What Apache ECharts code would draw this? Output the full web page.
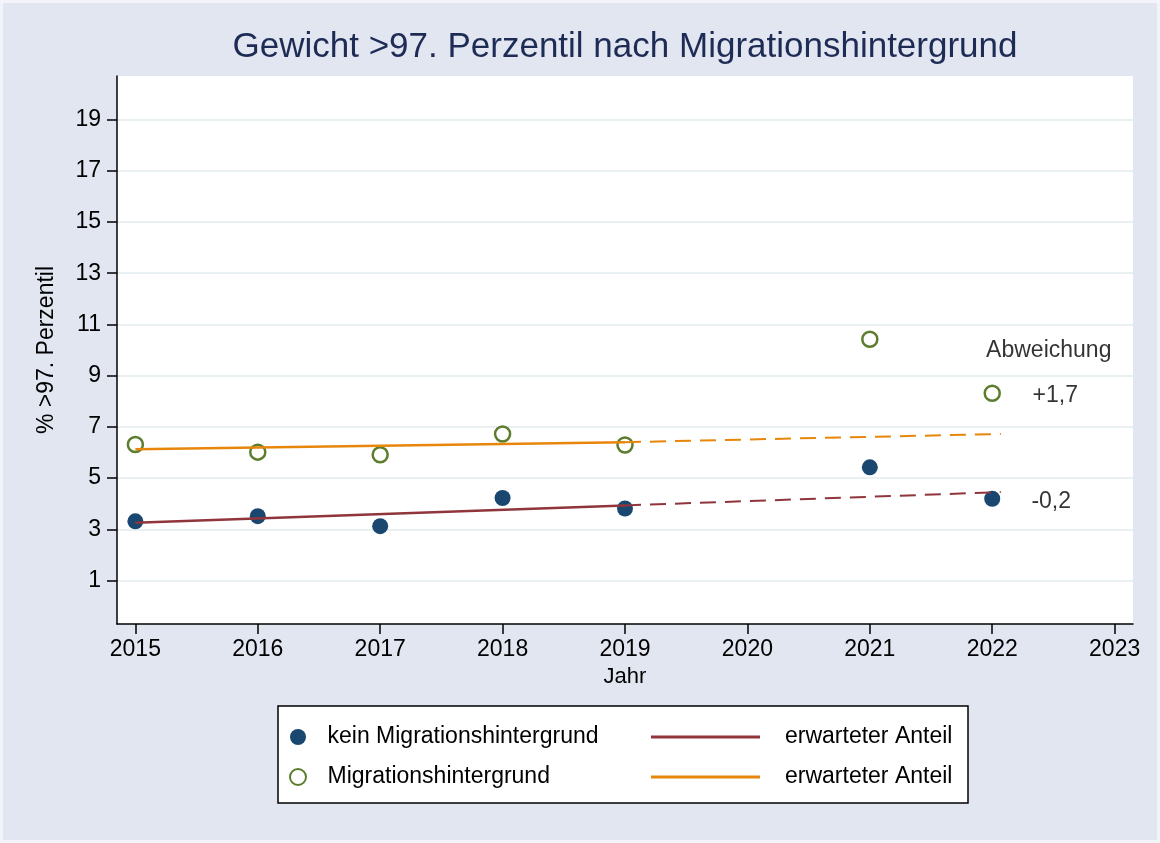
<!DOCTYPE html>
<html>
<head>
<meta charset="utf-8">
<script src="https://cdn.jsdelivr.net/npm/echarts@6/dist/echarts.min.js"></script>
<style>
html,body{margin:0;padding:0;background:#F2F4F9;}
#c{width:1160px;height:843px;}
</style>
</head>
<body>
<div id="c"></div>
<script>
// ---- data ----
const yearsKein = [2015, 2016, 2017, 2018, 2019, 2021, 2022];
const valuesKein = [3.31, 3.51, 3.12, 4.22, 3.81, 5.42, 4.19];
const yearsMig = [2015, 2016, 2017, 2018, 2019, 2021, 2022];
const valuesMig = [6.31, 6.01, 5.91, 6.72, 6.29, 10.42, 8.31];
// expected share (trend): fitted period and extrapolation
const trendKeinYears = [2015, 2019];
const trendKeinValues = [3.25, 3.93];
const trendKeinExtYears = [2019, 2022.07];
const trendKeinExtValues = [3.93, 4.45];
const trendMigYears = [2015, 2019];
const trendMigValues = [6.12, 6.40];
const trendMigExtYears = [2019, 2022.07];
const trendMigExtValues = [6.40, 6.72];
// deviation annotations
const devLabels = ['+1,7', '-0,2'];
const devX = [2022.33, 2022.32];
const devY = [8.23, 4.08];
const headLabel = 'Abweichung';
const headX = 2021.95;
const headY = 9.98;
// ticks
const xTicks = [2015, 2016, 2017, 2018, 2019, 2020, 2021, 2022, 2023];
const yTicks = [1, 3, 5, 7, 9, 11, 13, 15, 17, 19];

const pairs = (xs, ys) => xs.map((x, i) => [x, ys[i]]);

const FONT = "'Liberation Sans', Arial, sans-serif";
const NAVY = '#1A476F';
const GREEN = '#5B7D2D';
const RED = '#90353B';
const ORANGE = '#E8860C';

const chart = echarts.init(document.getElementById('c'), null, {renderer: 'canvas'});
chart.setOption({
  backgroundColor: '#F2F4F9',
  animation: false,
  title: {
    text: 'Gewicht >97. Perzentil nach Migrationshintergrund',
    left: 625, top: 30, textAlign: 'center', padding: 0,
    textStyle: {fontFamily: FONT, fontSize: 35, fontWeight: 'normal', color: '#1E2B55'}
  },
  graphic: [
    {type: 'rect', z: -10, silent: true, shape: {x: 3, y: 3, width: 1154, height: 837},
     style: {fill: '#E1E6F1'}},
    {type: 'rect', z: 0, silent: true, shape: {x: 278, y: 706, width: 690, height: 97},
     style: {fill: '#FFFFFF', stroke: '#000000', lineWidth: 1.5}}
  ],
  grid: {left: 117, right: 27, top: 76, bottom: 219, show: true,
         backgroundColor: '#FFFFFF', borderWidth: 0},
  xAxis: {
    type: 'value', min: 2014.85, max: 2023.15,
    name: 'Jahr', nameLocation: 'middle', nameGap: 42,
    nameTextStyle: {fontFamily: FONT, fontSize: 22, color: '#000'},
    axisLine: {show: true, onZero: false, lineStyle: {color: '#000', width: 1.5}},
    axisTick: {show: true, length: 10, customValues: xTicks, lineStyle: {color: '#000', width: 1.5}},
    axisLabel: {customValues: xTicks, fontFamily: FONT, fontSize: 23, color: '#000', margin: 14,
                formatter: v => String(v)},
    splitLine: {show: false}
  },
  yAxis: {
    type: 'value', min: -0.7, max: 20.7,
    name: '% >97. Perzentil', nameLocation: 'middle', nameGap: 59, nameRotate: 90,
    nameTextStyle: {fontFamily: FONT, fontSize: 23, color: '#000'},
    axisLine: {show: true, onZero: false, lineStyle: {color: '#000', width: 1.5}},
    axisTick: {show: true, length: 10, customValues: yTicks, lineStyle: {color: '#000', width: 1.5}},
    axisLabel: {customValues: yTicks, fontFamily: FONT, fontSize: 23, color: '#000', margin: 16},
    splitLine: {show: true, lineStyle: {color: '#E9F0F2', width: 2}}
  },
  legend: [
    {
      orient: 'vertical', left: 284, top: 720, itemGap: 16,
      itemWidth: 33, itemHeight: 16,
      data: ['kein Migrationshintergrund', 'Migrationshintergrund'],
      textStyle: {fontFamily: FONT, fontSize: 23, color: '#000', lineHeight: 24, padding: [0, 0, 0, 8]},
      selectedMode: false
    },
    {
      orient: 'vertical', left: 646, top: 720, itemGap: 16,
      itemWidth: 109, itemHeight: 3, icon: 'rect',
      data: ['erwarteter Anteil', 'erwarteter Anteil '],
      formatter: n => n.trim(),
      textStyle: {fontFamily: FONT, fontSize: 23, color: '#000', lineHeight: 24, padding: [0, 0, 0, 20]},
      selectedMode: false
    }
  ],
  series: [
    {
      name: 'kein Migrationshintergrund', type: 'scatter', z: 2,
      symbol: 'circle', symbolSize: 16,
      itemStyle: {color: NAVY, opacity: 1},
      data: pairs(yearsKein, valuesKein)
    },
    {
      name: 'Migrationshintergrund', type: 'scatter', z: 2,
      symbol: 'circle', symbolSize: 15,
      itemStyle: {color: 'rgba(255,255,255,0)', borderColor: GREEN, borderWidth: 2.5, opacity: 1},
      data: pairs(yearsMig, valuesMig)
    },
    {
      name: 'erwarteter Anteil', type: 'line', z: 3, symbol: 'none', showSymbol: false,
      lineStyle: {color: RED, width: 2.5}, itemStyle: {color: RED},
      data: pairs(trendKeinYears, trendKeinValues)
    },
    {
      name: 'erwarteter Anteil ', type: 'line', z: 3, symbol: 'none', showSymbol: false,
      lineStyle: {color: ORANGE, width: 2.5}, itemStyle: {color: ORANGE},
      data: pairs(trendMigYears, trendMigValues)
    },
    {
      name: 'trendKeinExt', type: 'line', z: 3, symbol: 'none', showSymbol: false,
      lineStyle: {color: RED, width: 2, type: [16, 9]},
      data: pairs(trendKeinExtYears, trendKeinExtValues)
    },
    {
      name: 'trendMigExt', type: 'line', z: 3, symbol: 'none', showSymbol: false,
      lineStyle: {color: ORANGE, width: 2, type: [16, 9]},
      data: pairs(trendMigExtYears, trendMigExtValues)
    },
    {
      name: 'annotations', type: 'scatter', z: 4, symbolSize: 0, silent: true,
      label: {show: true, position: 'right', distance: 0, formatter: p => p.data.t,
              fontFamily: FONT, fontSize: 23, color: '#000'},
      data: devLabels.map((t, i) => ({value: [devX[i], devY[i]], t: t}))
        .concat([{value: [headX, headY], t: headLabel}])
    }
  ]
});
</script>
</body>
</html>
